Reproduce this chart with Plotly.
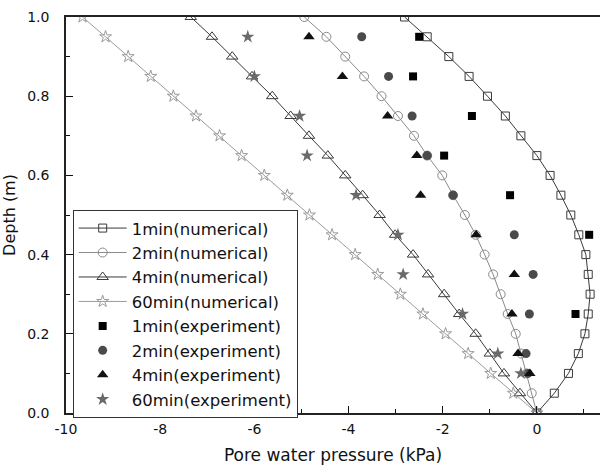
import plotly.graph_objects as go

# ---------------- data ----------------
depth_num = [0.0, 0.05, 0.10, 0.15, 0.20, 0.25, 0.30, 0.35, 0.40, 0.45, 0.50,
             0.55, 0.60, 0.65, 0.70, 0.75, 0.80, 0.85, 0.90, 0.95, 1.00]
p1_num = [0, 0.37, 0.67, 0.88, 1.02, 1.09, 1.13, 1.09, 1.04, 0.89, 0.72,
          0.51, 0.28, 0.00, -0.34, -0.67, -1.05, -1.44, -1.87, -2.33, -2.81]
p2_num = [0, -0.11, -0.22, -0.33, -0.45, -0.62, -0.77, -0.93, -1.11, -1.30, -1.53,
          -1.78, -2.01, -2.33, -2.61, -2.95, -3.30, -3.67, -4.07, -4.47, -4.94]
p4_num = [0, -0.36, -0.70, -1.00, -1.30, -1.65, -1.97, -2.31, -2.63, -3.01, -3.34,
          -3.70, -4.07, -4.44, -4.84, -5.23, -5.62, -6.05, -6.47, -6.90, -7.35]
p60_num = [0, -0.50, -0.98, -1.46, -1.94, -2.42, -2.90, -3.38, -3.86, -4.35, -4.83,
           -5.30, -5.79, -6.27, -6.74, -7.24, -7.72, -8.20, -8.68, -9.16, -9.65]

depth_exp1 = [0.95, 0.85, 0.75, 0.65, 0.55, 0.45, 0.25]
p1_exp = [-2.50, -2.63, -1.38, -1.97, -0.57, 1.11, 0.82]
depth_exp = [0.95, 0.85, 0.75, 0.65, 0.55, 0.45, 0.35, 0.25, 0.15, 0.10]
p2_exp = [-3.72, -3.15, -2.65, -2.33, -1.78, -0.48, -0.08, -0.16, -0.23, -0.19]
p4_exp = [-4.84, -4.13, -3.17, -2.55, -2.47, -1.29, -0.48, -0.53, -0.40, -0.15]
p60_exp = [-6.14, -6.00, -5.04, -4.88, -3.84, -2.95, -2.84, -1.58, -0.83, -0.34]

x_tickvals = [-10, -8, -6, -4, -2, 0]
x_ticktext = ["-10", "-8", "-6", "-4", "-2", "0"]
y_tickvals = [0.0, 0.2, 0.4, 0.6, 0.8, 1.0]
y_ticktext = ["0.0", "0.2", "0.4", "0.6", "0.8", "1.0"]

FONT = "DejaVu Sans"

fig = go.Figure()

num_series = [
    ("1min(numerical)", p1_num, "#3a3a3a", "square-open", 8),
    ("2min(numerical)", p2_num, "#8a8a8a", "circle-open", 9),
    ("4min(numerical)", p4_num, "#3a3a3a", "triangle-up-open", 10),
    ("60min(numerical)", p60_num, "#9a9a9a", "star-open", 9),
]
for name, xs, col, sym, sz in num_series:
    fig.add_trace(go.Scatter(
        x=xs, y=depth_num, name=name, mode="lines+markers",
        line=dict(color=col, width=1),
        marker=dict(symbol=sym, size=sz, color=col, line=dict(width=1, color=col)),
    ))

exp_series = [
    ("1min(experiment)", p1_exp, depth_exp1, "#000000", "square", 8),
    ("2min(experiment)", p2_exp, depth_exp, "#4a4a4a", "circle", 9),
    ("4min(experiment)", p4_exp, depth_exp, "#111111", "triangle-up", 10),
    ("60min(experiment)", p60_exp, depth_exp, "#6a6a6a", "star", 10),
]
for name, xs, ys, col, sym, sz in exp_series:
    fig.add_trace(go.Scatter(
        x=xs, y=ys, name=name, mode="markers",
        marker=dict(symbol=sym, size=sz, color=col, line=dict(width=0)),
    ))

fig.update_layout(
    width=600, height=468,
    margin=dict(l=66, r=0, t=17, b=55),
    paper_bgcolor="white", plot_bgcolor="white",
    font=dict(family=FONT, size=14, color="#111111"),
    showlegend=True,
    legend=dict(
        x=0.0125, y=0.513, xanchor="left", yanchor="top",
        bgcolor="white", bordercolor="#333333", borderwidth=1,
        font=dict(family=FONT, size=16.5, color="#111111"),
        itemwidth=48, tracegroupgap=0,
    ),
)
fig.update_xaxes(
    range=[-10, 1.34], tickmode="array", tickvals=x_tickvals, ticktext=x_ticktext,
    ticks="inside", ticklen=7, tickwidth=1, tickcolor="#111111",
    minor=dict(ticks="inside", ticklen=4, dtick=1, tickcolor="#111111", showgrid=False),
    showline=True, linecolor="#222222", linewidth=1.5, mirror=True,
    showgrid=False, zeroline=False,
    tickfont=dict(family=FONT, size=14), ticklabelstandoff=2,
    title=dict(text="Pore water pressure (kPa)", font=dict(family=FONT, size=17), standoff=14),
)
fig.update_yaxes(
    range=[0, 1.0], tickmode="array", tickvals=y_tickvals, ticktext=y_ticktext,
    ticks="inside", ticklen=7, tickwidth=1, tickcolor="#111111",
    minor=dict(ticks="inside", ticklen=4, dtick=0.1, tickcolor="#111111", showgrid=False),
    showline=True, linecolor="#222222", linewidth=1.5, mirror=False,
    showgrid=False, zeroline=False,
    tickfont=dict(family=FONT, size=14), ticklabelstandoff=12,
    title=dict(text="Depth (m)", font=dict(family=FONT, size=16), standoff=10),
)

fig.write_html("out.html")
